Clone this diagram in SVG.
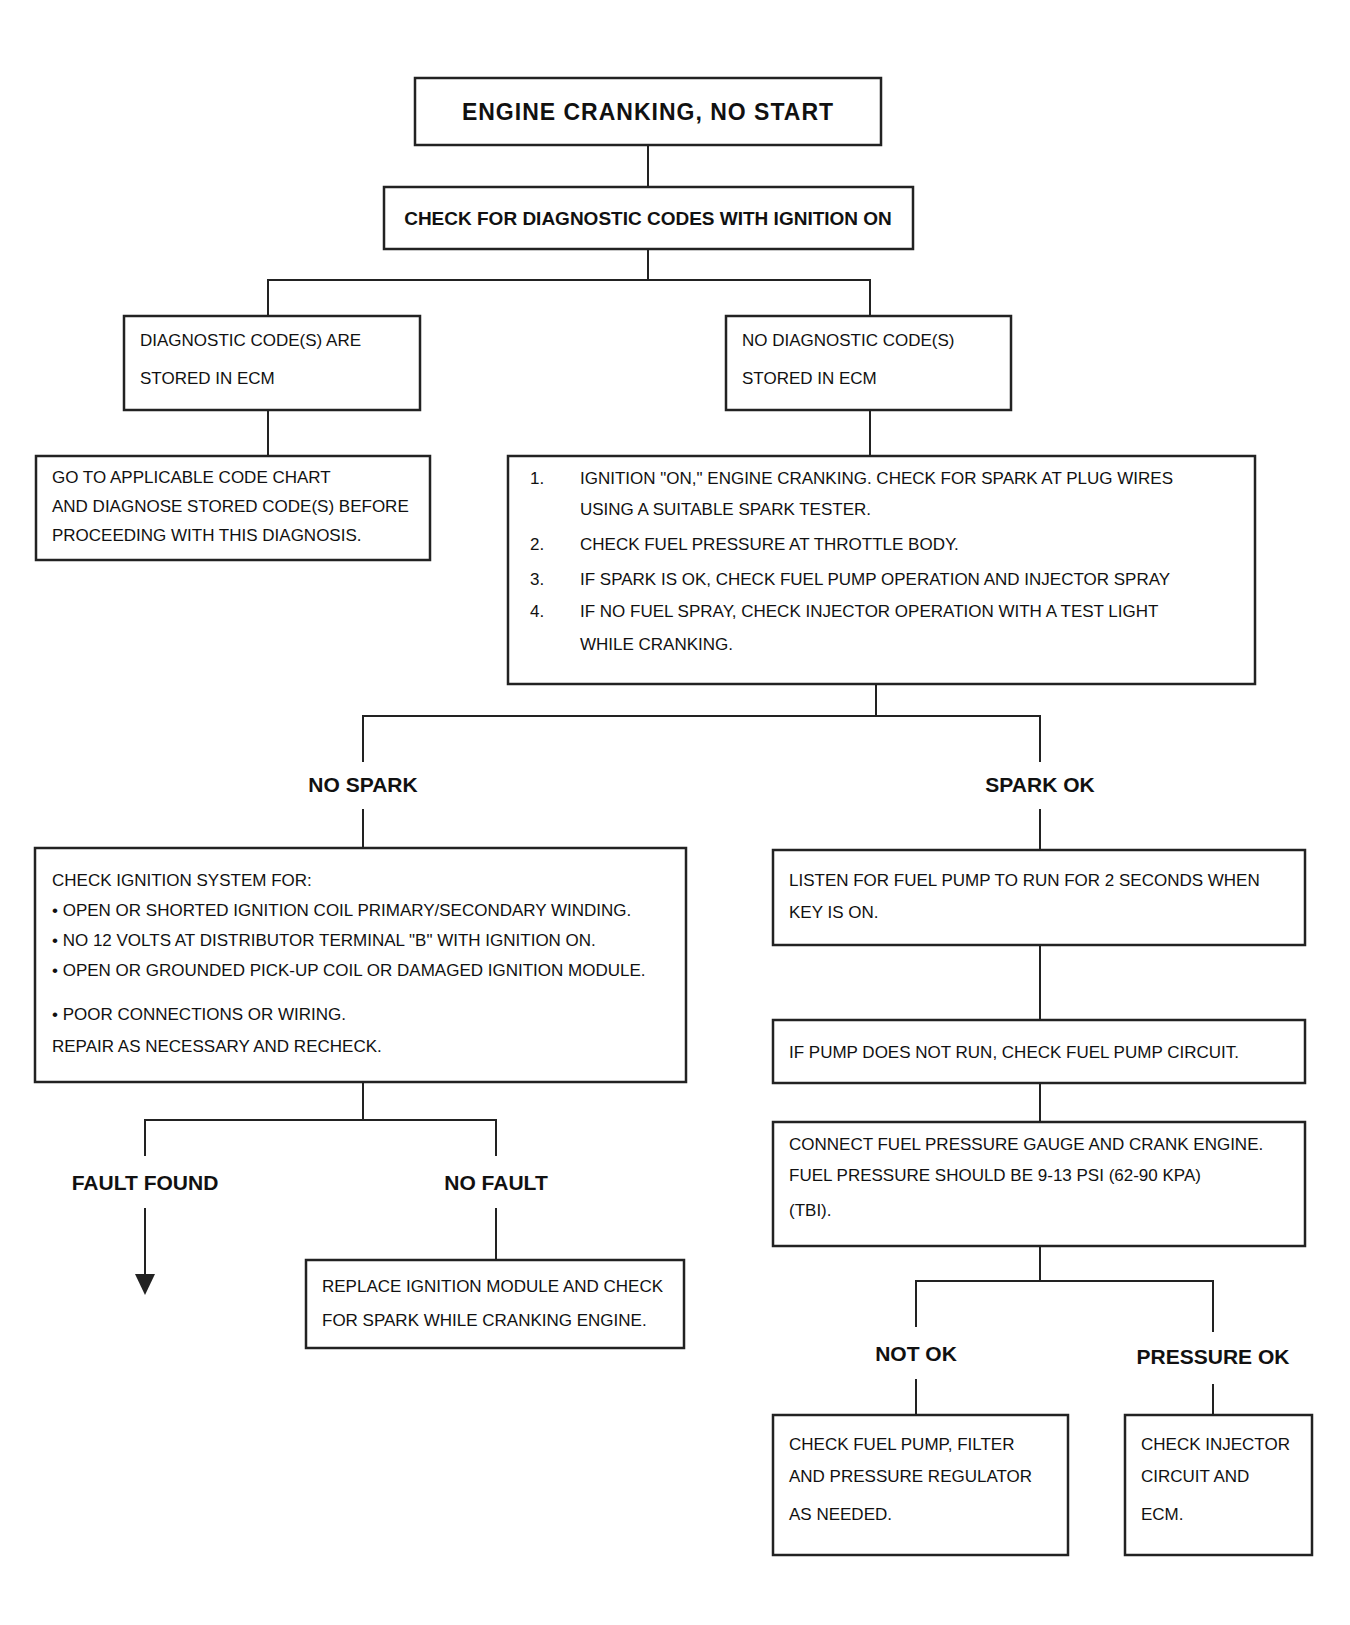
<svg xmlns="http://www.w3.org/2000/svg" width="1350" height="1625" viewBox="0 0 1350 1625">
<!-- Note: the reference text is illegible (heavily blurred); wording is an approximation that follows the line layout only. -->
<style>
  .box { fill: #ffffff; stroke: #222222; stroke-width: 2.5; }
  .t { font-family: "Liberation Sans", Arial, sans-serif; font-size: 17px; fill: #111111; }
  .tb { font-family: "Liberation Sans", Arial, sans-serif; font-weight: bold; fill: #111111; text-anchor: middle; }
  .lbl { font-family: "Liberation Sans", Arial, sans-serif; font-size: 21px; font-weight: bold; fill: #111111; text-anchor: middle; }
  .conn { fill: none; stroke: #222222; stroke-width: 2; }
</style>
<rect width="1350" height="1625" fill="#ffffff"/>

<g id="connectors">
  <polyline class="conn" points="648,145 648,187"/>
  <polyline class="conn" points="648,249 648,280"/>
  <polyline class="conn" points="268,316 268,280 870,280 870,316"/>
  <polyline class="conn" points="268,410 268,456"/>
  <polyline class="conn" points="870,410 870,456"/>
  <polyline class="conn" points="876,684 876,716"/>
  <polyline class="conn" points="363,762 363,716 1040,716 1040,762"/>
  <polyline class="conn" points="363,809 363,848"/>
  <polyline class="conn" points="1040,809 1040,850"/>
  <polyline class="conn" points="363,1082 363,1120"/>
  <polyline class="conn" points="145,1156 145,1120 496,1120 496,1156"/>
  <polyline class="conn" points="145,1208 145,1274"/>
  <polygon points="135,1274 155,1274 145,1295" fill="#222222"/>
  <polyline class="conn" points="496,1208 496,1260"/>
  <polyline class="conn" points="1040,945 1040,1020"/>
  <polyline class="conn" points="1040,1083 1040,1122"/>
  <polyline class="conn" points="1040,1246 1040,1281"/>
  <polyline class="conn" points="916,1327 916,1281 1213,1281 1213,1332"/>
  <polyline class="conn" points="916,1379 916,1415"/>
  <polyline class="conn" points="1213,1384 1213,1415"/>
</g>

<g id="n-start">
  <rect class="box" x="415" y="78" width="466" height="67" stroke-width="3"/>
  <text class="tb" x="648" y="120" font-size="23" letter-spacing="1">ENGINE CRANKING, NO START</text>
</g>
<g id="n-check-codes">
  <rect class="box" x="384" y="187" width="529" height="62"/>
  <text class="tb" x="648" y="225" font-size="19">CHECK FOR DIAGNOSTIC CODES WITH IGNITION ON</text>
</g>
<g id="n-codes-present">
  <rect class="box" x="124" y="316" width="296" height="94"/>
  <text class="t" x="140" y="346">DIAGNOSTIC CODE(S) ARE</text>
  <text class="t" x="140" y="384">STORED IN ECM</text>
</g>
<g id="n-no-codes">
  <rect class="box" x="726" y="316" width="285" height="94"/>
  <text class="t" x="742" y="346">NO DIAGNOSTIC CODE(S)</text>
  <text class="t" x="742" y="384">STORED IN ECM</text>
</g>
<g id="n-code-chart">
  <rect class="box" x="36" y="456" width="394" height="104"/>
  <text class="t" x="52" y="483">GO TO APPLICABLE CODE CHART</text>
  <text class="t" x="52" y="512">AND DIAGNOSE STORED CODE(S) BEFORE</text>
  <text class="t" x="52" y="541">PROCEEDING WITH THIS DIAGNOSIS.</text>
</g>
<g id="n-steps">
  <rect class="box" x="508" y="456" width="747" height="228"/>
  <text class="t" x="530" y="484">1.</text>
  <text class="t" x="580" y="484">IGNITION "ON," ENGINE CRANKING. CHECK FOR SPARK AT PLUG WIRES</text>
  <text class="t" x="580" y="515">USING A SUITABLE SPARK TESTER.</text>
  <text class="t" x="530" y="550">2.</text>
  <text class="t" x="580" y="550">CHECK FUEL PRESSURE AT THROTTLE BODY.</text>
  <text class="t" x="530" y="585">3.</text>
  <text class="t" x="580" y="585">IF SPARK IS OK, CHECK FUEL PUMP OPERATION AND INJECTOR SPRAY</text>
  <text class="t" x="530" y="617">4.</text>
  <text class="t" x="580" y="617">IF NO FUEL SPRAY, CHECK INJECTOR OPERATION WITH A TEST LIGHT</text>
  <text class="t" x="580" y="650">WHILE CRANKING.</text>
</g>
<g id="n-no-spark">
  <text class="lbl" x="363" y="792">NO SPARK</text>
</g>
<g id="n-spark-ok">
  <text class="lbl" x="1040" y="792">SPARK OK</text>
</g>
<g id="n-ign-check">
  <rect class="box" x="35" y="848" width="651" height="234"/>
  <text class="t" x="52" y="886">CHECK IGNITION SYSTEM FOR:</text>
  <text class="t" x="52" y="916">• OPEN OR SHORTED IGNITION COIL PRIMARY/SECONDARY WINDING.</text>
  <text class="t" x="52" y="946">• NO 12 VOLTS AT DISTRIBUTOR TERMINAL "B" WITH IGNITION ON.</text>
  <text class="t" x="52" y="976">• OPEN OR GROUNDED PICK-UP COIL OR DAMAGED IGNITION MODULE.</text>
  <text class="t" x="52" y="1020">• POOR CONNECTIONS OR WIRING.</text>
  <text class="t" x="52" y="1052">REPAIR AS NECESSARY AND RECHECK.</text>
</g>
<g id="n-fault">
  <text class="lbl" x="145" y="1190">FAULT FOUND</text>
</g>
<g id="n-no-fault">
  <text class="lbl" x="496" y="1190">NO FAULT</text>
</g>
<g id="n-module">
  <rect class="box" x="306" y="1260" width="378" height="88"/>
  <text class="t" x="322" y="1292">REPLACE IGNITION MODULE AND CHECK</text>
  <text class="t" x="322" y="1326">FOR SPARK WHILE CRANKING ENGINE.</text>
</g>
<g id="n-pump-run">
  <rect class="box" x="773" y="850" width="532" height="95"/>
  <text class="t" x="789" y="886">LISTEN FOR FUEL PUMP TO RUN FOR 2 SECONDS WHEN</text>
  <text class="t" x="789" y="918">KEY IS ON.</text>
</g>
<g id="n-pump-circuit">
  <rect class="box" x="773" y="1020" width="532" height="63"/>
  <text class="t" x="789" y="1058">IF PUMP DOES NOT RUN, CHECK FUEL PUMP CIRCUIT.</text>
</g>
<g id="n-pressure">
  <rect class="box" x="773" y="1122" width="532" height="124"/>
  <text class="t" x="789" y="1150">CONNECT FUEL PRESSURE GAUGE AND CRANK ENGINE.</text>
  <text class="t" x="789" y="1181">FUEL PRESSURE SHOULD BE 9-13 PSI (62-90 KPA)</text>
  <text class="t" x="789" y="1216">(TBI).</text>
</g>
<g id="n-not-ok">
  <text class="lbl" x="916" y="1361">NOT OK</text>
</g>
<g id="n-pressure-ok">
  <text class="lbl" x="1213" y="1364">PRESSURE OK</text>
</g>
<g id="n-fuel-supply">
  <rect class="box" x="773" y="1415" width="295" height="140"/>
  <text class="t" x="789" y="1450">CHECK FUEL PUMP, FILTER</text>
  <text class="t" x="789" y="1482">AND PRESSURE REGULATOR</text>
  <text class="t" x="789" y="1520">AS NEEDED.</text>
</g>
<g id="n-injector">
  <rect class="box" x="1125" y="1415" width="187" height="140"/>
  <text class="t" x="1141" y="1450">CHECK INJECTOR</text>
  <text class="t" x="1141" y="1482">CIRCUIT AND</text>
  <text class="t" x="1141" y="1520">ECM.</text>
</g>
</svg>
